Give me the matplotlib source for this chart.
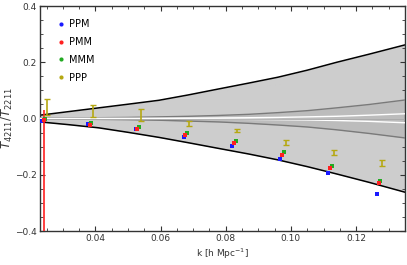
import numpy as np
import matplotlib
matplotlib.use("Agg")
import matplotlib.pyplot as plt
from matplotlib.ticker import MultipleLocator, FuncFormatter
from matplotlib.lines import Line2D

plt.rcParams['font.family'] = ['DejaVu Sans']
plt.rcParams['font.size'] = 7

# band sample points
k_band = [0.023, 0.032, 0.041, 0.050, 0.0595, 0.0685, 0.0777, 0.087, 0.096, 0.105, 0.114, 0.124, 0.135]
outer_hi = [0.012, 0.025, 0.038, 0.051, 0.065, 0.084, 0.105, 0.126, 0.147, 0.172, 0.200, 0.229, 0.262]
outer_lo = [-0.012, -0.022, -0.033, -0.049, -0.067, -0.086, -0.106, -0.126, -0.147, -0.171, -0.197, -0.227, -0.262]
inner_hi = [0.002, 0.002, 0.003, 0.004, 0.006, 0.008, 0.011, 0.015, 0.021, 0.028, 0.038, 0.050, 0.066]
inner_lo = [-0.002, -0.002, -0.003, -0.004, -0.006, -0.009, -0.012, -0.017, -0.023, -0.030, -0.040, -0.053, -0.069]
white_hi = [0.0005, 0.0007, 0.001, 0.001, 0.001, 0.0015, 0.002, 0.003, 0.004, 0.006, 0.008, 0.012, 0.017]
white_lo = [-0.0005, -0.0007, -0.001, -0.001, -0.001, -0.0015, -0.002, -0.003, -0.004, -0.005, -0.007, -0.010, -0.015]

# measured points
k_ppm = [0.0233, 0.0377, 0.0524, 0.0671, 0.0820, 0.0968, 0.1115, 0.1264]
ppm = [-0.010, -0.020, -0.037, -0.064, -0.098, -0.144, -0.193, -0.268]
k_pmm = [0.0241, 0.0382, 0.0529, 0.0676, 0.0825, 0.0973, 0.1120, 0.1269]
pmm = [-0.006, -0.022, -0.036, -0.058, -0.088, -0.130, -0.177, -0.228]
pmm_err_up = [0.038, 0, 0, 0, 0, 0, 0, 0]
pmm_err_dn = [0.6, 0, 0, 0, 0, 0, 0, 0]
k_mmm = [0.0245, 0.0388, 0.0535, 0.0682, 0.0830, 0.0978, 0.1125, 0.1274]
mmm = [-0.002, -0.015, -0.031, -0.052, -0.080, -0.120, -0.169, -0.221]
k_ppp = [0.0252, 0.0394, 0.0541, 0.0688, 0.0836, 0.0984, 0.1131, 0.1279]
ppp = [0.042, 0.027, 0.012, -0.018, -0.043, -0.085, -0.122, -0.158]
ppp_err = [0.028, 0.020, 0.022, 0.008, 0.006, 0.008, 0.009, 0.010]

names = ['PPM', 'PMM', 'MMM', 'PPP']
colors = ['#1a1aff', '#ff2020', '#22aa22', '#b5a812']

fig = plt.figure(figsize=(4.07, 2.65), dpi=100)
ax = fig.add_axes([0.0983, 0.1283, 0.8967, 0.8487])

ax.fill_between(k_band, outer_lo, outer_hi, color='#cdcdcd', lw=0, zorder=1)
ax.plot(k_band, outer_hi, color='black', lw=1.1, zorder=2)
ax.plot(k_band, outer_lo, color='black', lw=1.1, zorder=2)
ax.fill_between(k_band, inner_lo, inner_hi, color='#bcbcbc', lw=0, zorder=2)
ax.plot(k_band, inner_hi, color='#7a7a7a', lw=1.0, zorder=3)
ax.plot(k_band, inner_lo, color='#7a7a7a', lw=1.0, zorder=3)
ax.plot(k_band, white_hi, color='white', lw=1.0, zorder=3)
ax.plot(k_band, white_lo, color='white', lw=1.0, zorder=3)
ax.axhline(0, color='#a8a8a8', lw=0.6, zorder=3)

ms = 2.8
ax.plot(k_ppm, ppm, 's', color=colors[0], ms=ms, mew=0, zorder=5)
ax.errorbar(k_pmm, pmm, yerr=[pmm_err_dn, pmm_err_up], fmt='s', color=colors[1],
            ms=ms, mew=0, elinewidth=1.2, capsize=0, zorder=5)
ax.plot(k_mmm, mmm, 's', color=colors[2], ms=ms, mew=0, zorder=5)
ax.errorbar(k_ppp, ppp, yerr=ppp_err, fmt='none', ecolor=colors[3],
            elinewidth=1.2, capsize=2.2, capthick=1.0, zorder=5)

ax.set_xlim(0.023, 0.135)
ax.set_ylim(-0.4, 0.4)
ax.xaxis.set_major_locator(MultipleLocator(0.02))
ax.xaxis.set_minor_locator(MultipleLocator(0.005))
ax.yaxis.set_major_locator(MultipleLocator(0.2))
ax.yaxis.set_minor_locator(MultipleLocator(0.05))
ax.xaxis.set_major_formatter(FuncFormatter(lambda v, p: f"{v:.2f}"))
ax.yaxis.set_major_formatter(FuncFormatter(lambda v, p: f"{v:.1f}".replace('-', '\u2212')))
ax.tick_params(which='both', direction='in', top=True, right=True, color='#333333')
ax.tick_params(which='major', length=3.5, width=0.8, labelsize=6.5, labelcolor='#333333', pad=2.5)
ax.tick_params(which='minor', length=2, width=0.6)
for s in ax.spines.values():
    s.set_color('#333333')
    s.set_linewidth(1.0)

ax.set_xlabel(r'k [h Mpc$^{-1}$]', fontsize=6.5, color='#333333', labelpad=2)
ax.set_ylabel(r'$T_{4211}/T_{2211}$', fontsize=8.5, color='#333333', labelpad=0)

handles = [Line2D([], [], ls='none', marker='o', ms=3, mew=0, color=c) for c in colors]
ax.legend(handles, names, loc='upper left', bbox_to_anchor=(0.02, 0.98), frameon=False,
          fontsize=7, handlelength=1.0, handletextpad=0.3, labelspacing=0.8)

fig.savefig('out.png', dpi=100)
